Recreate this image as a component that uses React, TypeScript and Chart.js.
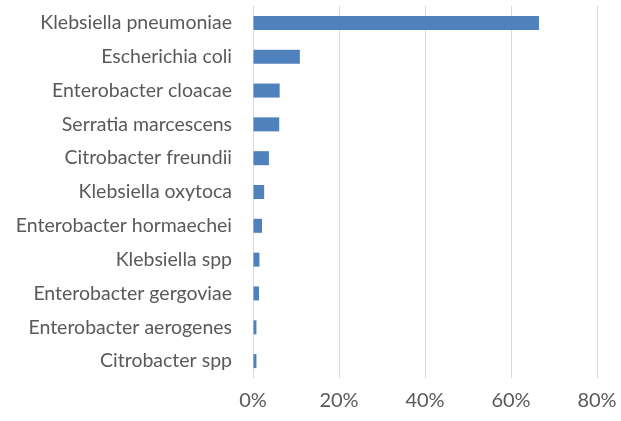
import React, { useEffect, useRef } from "react";
import { Chart, registerables } from "chart.js";

Chart.register(...registerables);

const categories = [
  "Klebsiella pneumoniae",
  "Escherichia coli",
  "Enterobacter cloacae",
  "Serratia marcescens",
  "Citrobacter freundii",
  "Klebsiella oxytoca",
  "Enterobacter hormaechei",
  "Klebsiella spp",
  "Enterobacter gergoviae",
  "Enterobacter aerogenes",
  "Citrobacter spp",
];

const shares = [66.5, 10.9, 6.2, 6.1, 3.7, 2.6, 2.1, 1.5, 1.4, 0.8, 0.8];

const xMax = 80;
const xStep = 20;

export default function App() {
  const ref = useRef<HTMLCanvasElement | null>(null);

  useEffect(() => {
    document.body.style.margin = "0";
    const canvas = ref.current;
    if (!canvas) return;
    const chart = new Chart(canvas, {
      type: "bar",
      data: {
        labels: categories,
        datasets: [
          {
            data: shares,
            backgroundColor: "#4F81BD",
            borderWidth: 0,
            categoryPercentage: 1,
            barPercentage: 0.414,
          },
        ],
      },
      options: {
        indexAxis: "y",
        animation: false,
        responsive: false,
        maintainAspectRatio: false,
        layout: { padding: { top: 6, right: 24, left: 0, bottom: 0 } },
        plugins: { legend: { display: false }, tooltip: { enabled: false } },
        scales: {
          x: {
            min: 0,
            max: xMax,
            ticks: {
              stepSize: xStep,
              color: "#595959",
              font: { family: "Lato", size: 20 },
              padding: 11,
              maxRotation: 0,
              callback: (v: any) => v + "%",
            },
            grid: { color: "#D9D9D9", lineWidth: 1, drawTicks: false },
            border: { display: false },
            afterFit: (s: any) => {
              s.height = 43;
              s.paddingLeft = 0;
              s.paddingRight = 0;
            },
          },
          y: {
            ticks: {
              color: "#595959",
              font: { family: "Lato", size: 19.5 },
              padding: 21,
              autoSkip: false,
            },
            grid: { display: false, drawTicks: false },
            border: { display: false },
            afterFit: (s: any) => {
              s.width = 253;
              s.paddingTop = 0;
              s.paddingBottom = 0;
            },
          },
        },
      },
    });
    return () => chart.destroy();
  }, []);

  return (
    <div style={{ width: 621, height: 421, background: "#fff" }}>
      <canvas ref={ref} width={621} height={421} style={{ display: "block" }} />
    </div>
  );
}
